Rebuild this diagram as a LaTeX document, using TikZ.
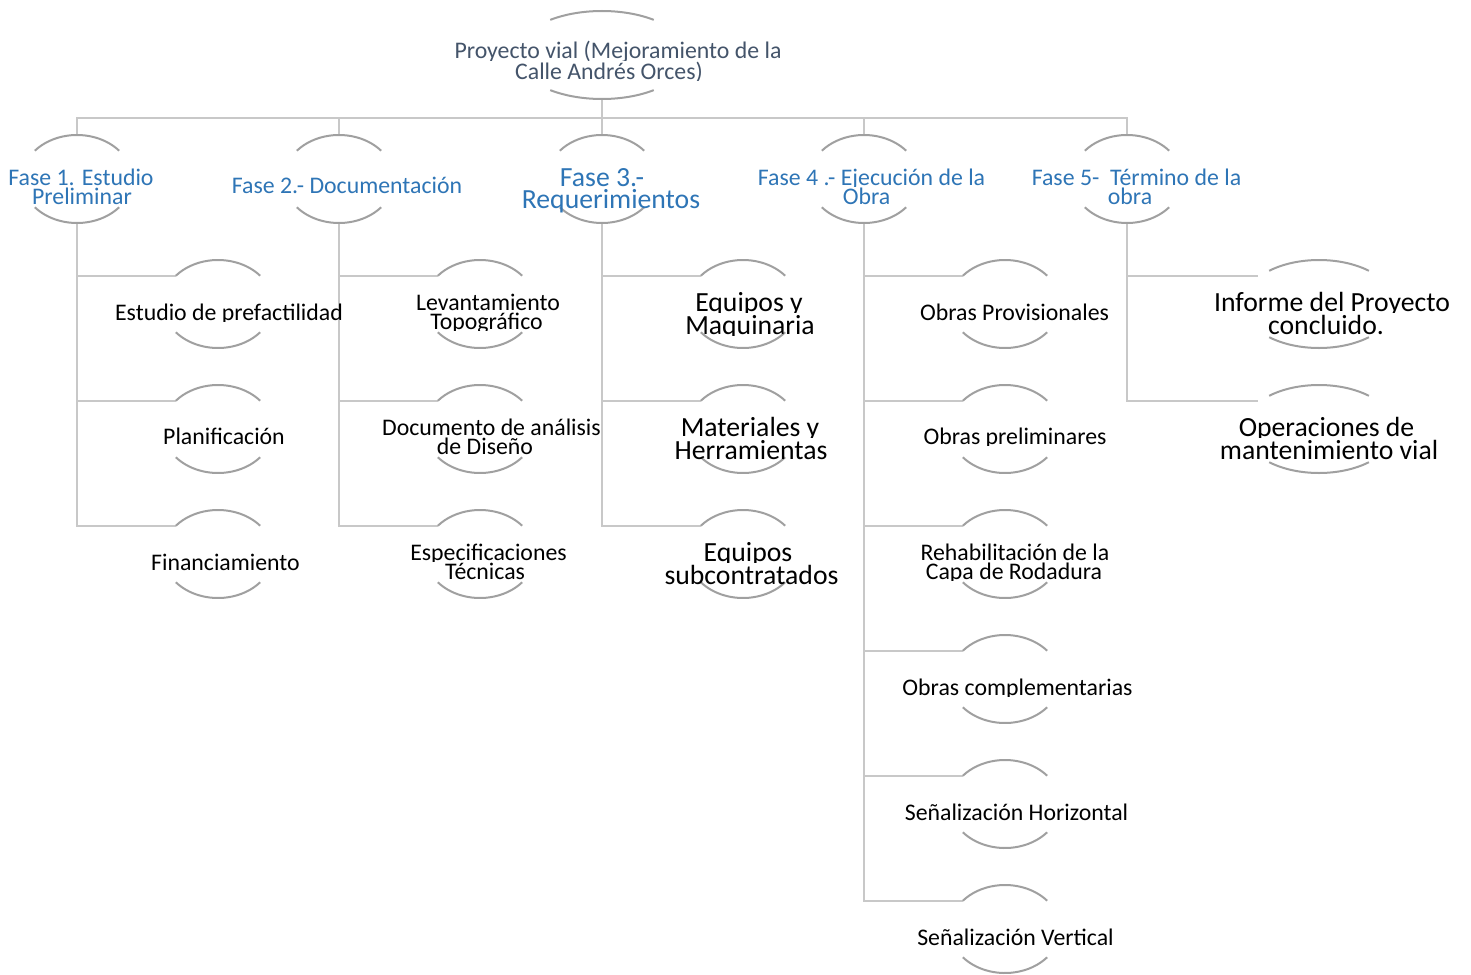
\documentclass[tikz,border=0pt]{standalone}
\usepackage{fontspec}
\setmainfont{Carlito}
\usetikzlibrary{calc}

\definecolor{arcgray}{RGB}{160,160,160}
\definecolor{linkgray}{RGB}{200,200,200}
\definecolor{rootink}{HTML}{44546A}
\definecolor{phaseink}{HTML}{2E75B6}

\tikzset{
  arcline/.style={draw=arcgray, line width=2pt},
  link/.style={draw=linkgray, line width=2.4pt},
  hub/.style={minimum width=#1, minimum height=88, inner sep=0pt, outer sep=0pt, draw=none},
  leaf/.style={minimum width=#1, minimum height=56, inner sep=0pt, outer sep=0pt, draw=none},
  txt/.style={anchor=base, inner sep=0pt, outer sep=0pt},
  roottxt/.style={txt, text=rootink, font=\fontsize{23.8}{24}\selectfont},
  phasetxt/.style={txt, text=phaseink, font=\fontsize{23.8}{24}\selectfont},
  phasebig/.style={txt, text=phaseink, font=\fontsize{27.7}{28}\selectfont},
  itemtxt/.style={txt, text=black, font=\fontsize{23.8}{24}\selectfont},
  itembig/.style={txt, text=black, font=\fontsize{27.7}{28}\selectfont},
}

% upper and lower arc of an ellipse around a node: node, x radius, y radius, angle
\newcommand\lens[4]{%
  \draw[arcline] ($(#1.center)+(#4:#2 and #3)$)
    arc[start angle=#4, end angle={180-#4}, x radius=#2, y radius=#3];
  \draw[arcline] ($(#1.center)+({180+#4}:#2 and #3)$)
    arc[start angle={180+#4}, end angle={360-#4}, x radius=#2, y radius=#3];
}
% one line of text whose descenders are cut just below the baseline
\newcommand\cutline[5]{%
  \begin{scope}
    \clip (#2-400,-#3-1.5) rectangle (#2+400,-#3+60);
    \node[#4] (#1) at (#2,-#3) {#5};
  \end{scope}}
\newcommand\fullline[5]{\node[#4] (#1) at (#2,-#3) {#5};}

\begin{document}
\begin{tikzpicture}[x=1pt, y=1pt]
\useasboundingbox[fill=white] (0,0) rectangle (1471,-974);

% ---- shapes ----
\node[hub=172] (root) at (602,-55) {};
\foreach \n/\x in {f1/77, f2/339, f3/602, f4/864, f5/1127}
  \node[hub=110] (\n) at (\x,-179) {};

\foreach \n/\y in {1/304, 2/429, 3/554} {
  \node[leaf=84] (c1\n) at (218,-\y) {};
  \node[leaf=84] (c2\n) at (480,-\y) {};
  \node[leaf=84] (c3\n) at (743,-\y) {};
}
\foreach \n/\y in {1/304, 2/429, 3/554, 4/679, 5/804, 6/929}
  \node[leaf=84] (c4\n) at (1005,-\y) {};
\node[leaf=122] (c51) at (1319,-304) {};
\node[leaf=122] (c52) at (1319,-429) {};

% ---- connectors ----
\coordinate (bus) at ($(root.south)+(0,-19)$);
\draw[link] (root.south) -- (bus);
\foreach \n in {f1,f2,f3,f4,f5}
  \draw[link] (bus) -| (\n.north);
\foreach \p/\k in {1/3, 2/3, 3/3, 4/6, 5/2}
  \foreach \i in {1,...,\k}
    \draw[link] (f\p.south) |- (c\p\i.north west);

% ---- arcs ----
\lens{root}{86}{44}{53}
\foreach \n in {f1,f2,f3,f4,f5} { \lens{\n}{55}{44}{40} }
\foreach \n in {c11,c12,c13,c21,c22,c23,c31,c32,c33,c41,c42,c43,c44,c45,c46} { \lens{\n}{55}{44}{40} }
\lens{c51}{76}{44}{49}
\lens{c52}{76}{44}{49}

% ---- texts ----
\cutline{roota}{618}{59}{roottxt}{Proyecto vial (Mejoramiento de la}
\cutline{rootb}{609}{79}{roottxt}{Calle Andrés Orces)}

\cutline{f1a}{81}{185}{phasetxt}{Fase 1. Estudio}
\cutline{f1b}{82}{204}{phasetxt}{Preliminar}
\cutline{f2a}{347}{193}{phasetxt}{Fase 2.- Documentación}
\cutline{f3a}{602}{186}{phasebig}{Fase 3.-}
\fullline{f3b}{611}{208}{phasebig}{Requerimientos}
\cutline{f4a}{871.5}{185}{phasetxt}{Fase 4 .- Ejecución de la}
\cutline{f4b}{866.5}{204}{phasetxt}{Obra}
\cutline{f5a}{1136.5}{185}{phasetxt}{Fase 5-\ \ Término de la}
\cutline{f5b}{1130}{204}{phasetxt}{obra}

\cutline{t11}{229}{320}{itemtxt}{Estudio de prefactilidad}
\cutline{t12}{224}{444}{itemtxt}{Planificación}
\cutline{t13}{225.5}{570}{itemtxt}{Financiamiento}

\cutline{t21a}{488}{310}{itemtxt}{Levantamiento}
\cutline{t21b}{486.5}{329}{itemtxt}{Topográfico}
\cutline{t22a}{491.5}{435}{itemtxt}{Documento de análisis}
\cutline{t22b}{485}{454}{itemtxt}{de Diseño}
\cutline{t23a}{488.5}{560}{itemtxt}{Especificaciones}
\cutline{t23b}{485}{579}{itemtxt}{Técnicas}

\cutline{t31a}{749}{311}{itembig}{Equipos y}
\cutline{t31b}{750}{334}{itembig}{Maquinaria}
\cutline{t32a}{750}{436}{itembig}{Materiales y}
\cutline{t32b}{751}{459}{itembig}{Herramientas}
\cutline{t33a}{748}{561}{itembig}{Equipos}
\cutline{t33b}{751.5}{584}{itembig}{subcontratados}

\cutline{t41}{1014.5}{320}{itemtxt}{Obras Provisionales}
\cutline{t42}{1015}{444}{itemtxt}{Obras preliminares}
\cutline{t43a}{1015}{560}{itemtxt}{Rehabilitación de la}
\cutline{t43b}{1014}{579}{itemtxt}{Capa de Rodadura}
\cutline{t44}{1017.5}{695}{itemtxt}{Obras complementarias}
\cutline{t45}{1016.5}{820}{itemtxt}{Señalización Horizontal}
\cutline{t46}{1015.5}{945}{itemtxt}{Señalización Vertical}

\cutline{t51a}{1332}{311}{itembig}{Informe del Proyecto}
\cutline{t51b}{1326}{334}{itembig}{concluido.}
\cutline{t52a}{1326.5}{436}{itembig}{Operaciones de}
\cutline{t52b}{1329}{459}{itembig}{mantenimiento vial}
\end{tikzpicture}
\end{document}
